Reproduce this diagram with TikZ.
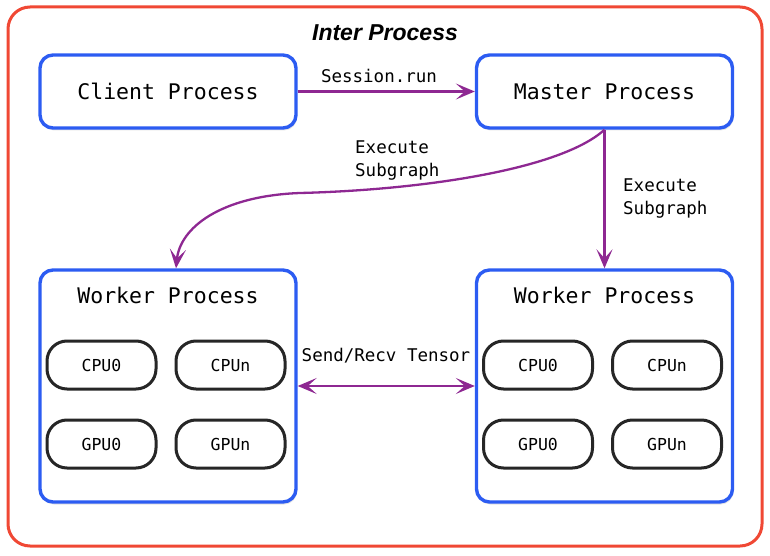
\documentclass[tikz,border=0pt]{standalone}
\usepackage{fontspec}
\setmonofont{DejaVu Sans Mono}
\setsansfont{Liberation Sans}
\usetikzlibrary{arrows.meta,shadows}
\definecolor{framered}{RGB}{240,72,52}
\definecolor{procblue}{RGB}{44,92,242}
\definecolor{flowpurple}{RGB}{142,40,146}

\begin{document}
\begin{tikzpicture}[x=1pt,y=-1pt,
  procbox/.style={draw=procblue, line width=3.4pt, rounded corners=13pt, fill=white,
    minimum width=256pt, inner sep=0pt,
    drop shadow={opacity=0.22, shadow xshift=1pt, shadow yshift=-2.5pt}},
  devbox/.style={draw=black!85, line width=3pt, rounded corners=20pt, fill=white,
    minimum width=109pt, minimum height=48pt, inner sep=0pt,
    font=\ttfamily\fontsize{16.5}{19}\selectfont},
  bigtext/.style={font=\ttfamily\fontsize{21.5}{25}\selectfont},
  lbl/.style={font=\ttfamily\fontsize{17.5}{23}\selectfont, inner sep=0pt, align=left},
  barb/.tip={Stealth[length=19pt,width=16pt,inset=9pt]},
  flow/.style={draw=flowpurple, line width=2.3pt, -barb}
]
\useasboundingbox (0,0) rectangle (770,556);

% outer frame
\draw[framered, line width=3pt, rounded corners=22pt] (8,7) rectangle (762,546);
\node[font=\sffamily\bfseries\itshape\fontsize{23}{27}\selectfont] (title) at (385,33) {Inter Process};

% top processes
\node[procbox, minimum height=73pt, bigtext] (client) at (168,91.5) {Client Process};
\node[procbox, minimum height=73pt, bigtext] (master) at (604.5,91.5) {Master Process};

% worker processes
\node[procbox, minimum height=232pt] (wl) at (168,386) {};
\node[procbox, minimum height=232pt] (wr) at (604.5,386) {};
\node[bigtext] (wltitle) at (168,295) {Worker Process};
\node[bigtext] (wrtitle) at (604.5,295) {Worker Process};

% devices
\node[devbox] (lcpu0) at (101.5,365) {CPU0};
\node[devbox] (lcpun) at (230.5,365) {CPUn};
\node[devbox] (lgpu0) at (101.5,444) {GPU0};
\node[devbox] (lgpun) at (230.5,444) {GPUn};
\node[devbox] (rcpu0) at (538,365) {CPU0};
\node[devbox] (rcpun) at (667,365) {CPUn};
\node[devbox] (rgpu0) at (538,444) {GPU0};
\node[devbox] (rgpun) at (667,444) {GPUn};

% connectors
\draw[flow] (client.east) -- (master.west);
\node[lbl] (runlbl) at (379,76) {Session.run};

\draw[flow] (master.south) -- (wr.north);
\node[lbl, anchor=north west] (exlbl2) at (623,179) {Execute\\Subgraph};

\coordinate (bend) at (300,193);
\draw[flow] (master.south) .. controls (560,170) and (420,190) .. (bend)
  .. controls (220,196) and (180,228) .. ([xshift=8pt]wl.north);
\node[lbl, anchor=north west] (exlbl1) at (355,141) {Execute\\Subgraph};

\draw[flow, barb-barb] (wl.east) -- (wr.west);
\node[lbl] (tensorlbl) at (386,356) {Send/Recv Tensor};
\end{tikzpicture}
\end{document}
